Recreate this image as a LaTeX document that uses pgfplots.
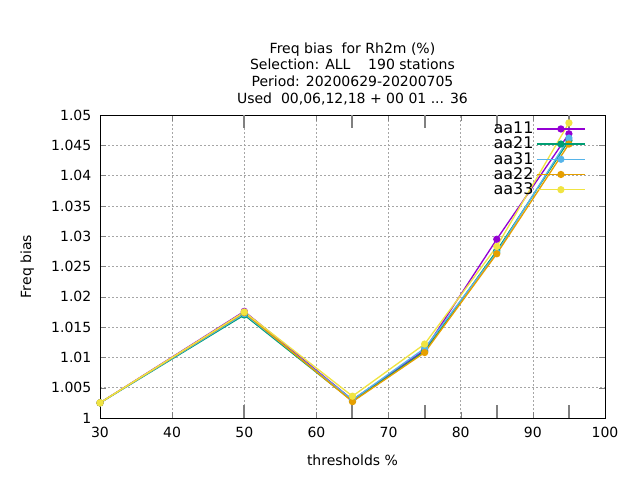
\documentclass[border=0pt]{standalone}
\usepackage{pgfplots}
\pgfplotsset{compat=1.18}
\usepackage{fontspec}
\setmainfont{DejaVu Sans}
\begin{document}
\begin{tikzpicture}[x=0.75pt,y=0.75pt]
\useasboundingbox (-100,-62) rectangle (540,418);
\begin{axis}[at={(0,0)},anchor=south west,scale only axis,width=378.75pt,height=227.25pt,
xmin=30,xmax=100,ymin=1,ymax=1.05,
xtick={30,40,...,100},ytick={1,1.005,...,1.05},
yticklabels={1,1.005,1.01,1.015,1.02,1.025,1.03,1.035,1.04,1.045,1.05},
extra x ticks={50,65,75,85,95},extra x tick labels={},
extra x tick style={grid=none,major tick length=10pt,tick style={line width=1.5pt}},
grid=major,grid style={gray!70,dash pattern=on 1.5pt off 1.5pt},
tick align=inside,
xticklabel style={font=\fontsize{10.5}{12}\selectfont,yshift=-3pt},
yticklabel style={font=\fontsize{10.5}{12}\selectfont,xshift=-3pt},
/pgf/number format/assume math mode=true,
xlabel={thresholds \%},ylabel={Freq bias},
xlabel style={yshift=-6pt},ylabel style={yshift=6pt},
label style={font=\fontsize{10.5}{12}\selectfont},
title={Freq bias~~for Rh2m (\%)\\Selection: ALL~~~~190 stations\\Period: 20200629-20200705\\Used~~00,06,12,18 + 00 01 ... 36},
title style={align=center,font=\fontsize{10.5}{12.5}\selectfont,yshift=-2pt},
legend style={draw=none,fill=none,at={(0.97,0.995)},anchor=north east,font=\fontsize{12}{14}\selectfont,row sep=-3pt},
legend cell align=right,
legend plot pos=right,
legend image code/.code={\draw[#1,mark=none] (0pt,0pt) -- (36pt,0pt); \path[#1] plot coordinates {(18pt,0pt)};},
every axis plot/.append style={line width=1pt,mark=*,mark size=2.2pt},
]
\addplot[color={rgb,255:red,148;green,0;blue,211}] coordinates {(30,1.0025)(50,1.0176)(65,1.0030)(75,1.0112)(85,1.0295)(95,1.0469)};
\addlegendentry{aa11}
\addplot[color={rgb,255:red,0;green,158;blue,115}] coordinates {(30,1.0025)(50,1.0170)(65,1.0028)(75,1.0110)(85,1.0276)(95,1.0458)};
\addlegendentry{aa21}
\addplot[color={rgb,255:red,86;green,180;blue,233}] coordinates {(30,1.0025)(50,1.0172)(65,1.0030)(75,1.0115)(85,1.0273)(95,1.0462)};
\addlegendentry{aa31}
\addplot[color={rgb,255:red,230;green,159;blue,0}] coordinates {(30,1.0025)(50,1.0174)(65,1.0027)(75,1.0108)(85,1.0271)(95,1.0452)};
\addlegendentry{aa22}
\addplot[color={rgb,255:red,240;green,228;blue,66}] coordinates {(30,1.0025)(50,1.0175)(65,1.0036)(75,1.0122)(85,1.0283)(95,1.0487)};
\addlegendentry{aa33}
\end{axis}
\end{tikzpicture}
\end{document}
